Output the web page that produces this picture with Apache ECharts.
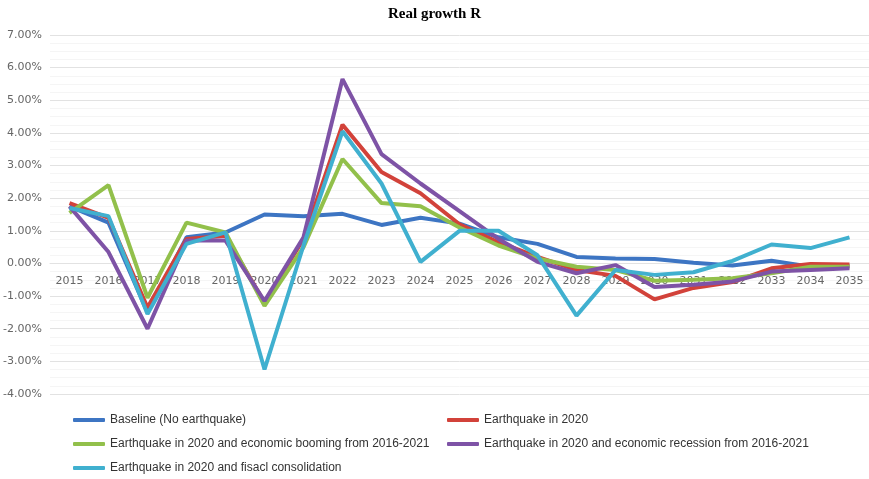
<!DOCTYPE html>
<html lang="en">
<head>
    <meta charset="UTF-8">
    <title>Real growth R</title>
    <script src="https://cdn.jsdelivr.net/npm/echarts/dist/echarts.min.js"></script>
    <style>
        html, body { margin: 0; padding: 0; background: #fff; }
        #main { width: 869px; height: 479px; }
    </style>
</head>
<body>
    <div id="main"></div>
    <script>
        // years on the x axis
        var years = ['2015', '2016', '2017', '2018', '2019', '2020', '2021', '2022', '2023', '2024', '2025',
                     '2026', '2027', '2028', '2029', '2030', '2031', '2032', '2033', '2034', '2035'];

        // growth in percent
        var baseline  = [1.75, 1.25, -1.5, 0.8, 0.95, 1.5, 1.45, 1.52, 1.18, 1.4, 1.22, 0.8, 0.6, 0.2, 0.15, 0.14, 0.02, -0.06, 0.08, -0.1, -0.08];
        var quake     = [1.85, 1.4, -1.35, 0.75, 0.85, -1.2, 0.75, 4.25, 2.8, 2.15, 1.2, 0.65, 0.2, -0.2, -0.38, -1.1, -0.75, -0.57, -0.15, -0.02, -0.03];
        var booming   = [1.55, 2.4, -1.05, 1.25, 0.95, -1.3, 0.5, 3.2, 1.85, 1.75, 1.1, 0.55, 0.15, -0.1, -0.2, -0.53, -0.5, -0.45, -0.3, -0.1, -0.1];
        var recession = [1.75, 0.35, -2.0, 0.7, 0.7, -1.15, 0.8, 5.65, 3.35, 2.45, 1.6, 0.75, 0.05, -0.3, -0.05, -0.72, -0.65, -0.55, -0.25, -0.2, -0.15];
        var fiscal    = [1.7, 1.45, -1.55, 0.6, 0.95, -3.25, 0.55, 4.05, 2.45, 0.05, 1.0, 1.0, 0.25, -1.6, -0.2, -0.35, -0.27, 0.08, 0.58, 0.47, 0.8];

        var names = [
            'Baseline (No earthquake)',
            'Earthquake in 2020',
            'Earthquake in 2020 and economic booming from 2016-2021',
            'Earthquake in 2020 and economic recession from 2016-2021',
            'Earthquake in 2020 and fisacl consolidation'
        ];
        var colors = ['#3d75c3', '#d2423a', '#92c04b', '#7e53a6', '#40b0cf'];
        var values = [baseline, quake, booming, recession, fiscal];

        var yMin = -4, yMax = 7;
        var gridTop = 35, gridBottom = 85;
        var plotH = 479 - gridTop - gridBottom;
        // x axis sits on the 0% line, so move it up from the bottom
        var zeroOffset = -plotH * (0 - yMin) / (yMax - yMin);

        var myChart = echarts.init(document.getElementById('main'));

        var legendText = { fontFamily: 'Liberation Sans Narrow, Liberation Sans, sans-serif', fontSize: 12, color: '#333' };

        var option = {
            animation: false,
            title: {
                text: 'Real growth R',
                left: 'center',
                top: 2,
                textStyle: { fontFamily: 'Liberation Serif, serif', fontWeight: 'bold', fontSize: 15, color: '#000' }
            },
            legend: [
                {
                    data: [names[0], names[2], names[4]],
                    orient: 'vertical',
                    left: 68, top: 409,
                    itemGap: 12,
                    itemWidth: 32, itemHeight: 4,
                    icon: 'roundRect',
                    textStyle: legendText
                },
                {
                    data: [names[1], names[3]],
                    orient: 'vertical',
                    left: 442, top: 409,
                    itemGap: 12,
                    itemWidth: 32, itemHeight: 4,
                    icon: 'roundRect',
                    textStyle: legendText
                }
            ],
            grid: { left: 50, right: 0, top: gridTop, bottom: gridBottom },
            xAxis: {
                type: 'category',
                data: years,
                offset: zeroOffset,
                axisLine: { show: true, onZero: false, lineStyle: { color: '#e2e2e2' } },
                axisTick: { show: false },
                axisLabel: { color: '#666', fontSize: 11, margin: 12, fontFamily: 'DejaVu Sans, sans-serif' }
            },
            yAxis: {
                type: 'value',
                min: yMin, max: yMax, interval: 1,
                axisLine: { show: false },
                axisTick: { show: false },
                axisLabel: {
                    color: '#666', fontSize: 11, margin: 8, fontFamily: 'DejaVu Sans, sans-serif',
                    formatter: function (v) { return v.toFixed(2) + '%'; }
                },
                splitLine: { lineStyle: { color: '#e2e2e2', width: 1 } },
                minorTick: { show: false, splitNumber: 4 },
                minorSplitLine: { show: true, lineStyle: { color: '#f5f5f5' } }
            },
            series: values.map(function (d, i) {
                return {
                    name: names[i],
                    type: 'line',
                    data: d,
                    symbol: 'none',
                    color: colors[i],
                    lineStyle: { width: 4, color: colors[i] }
                };
            })
        };

        myChart.setOption(option);
    </script>
</body>
</html>
